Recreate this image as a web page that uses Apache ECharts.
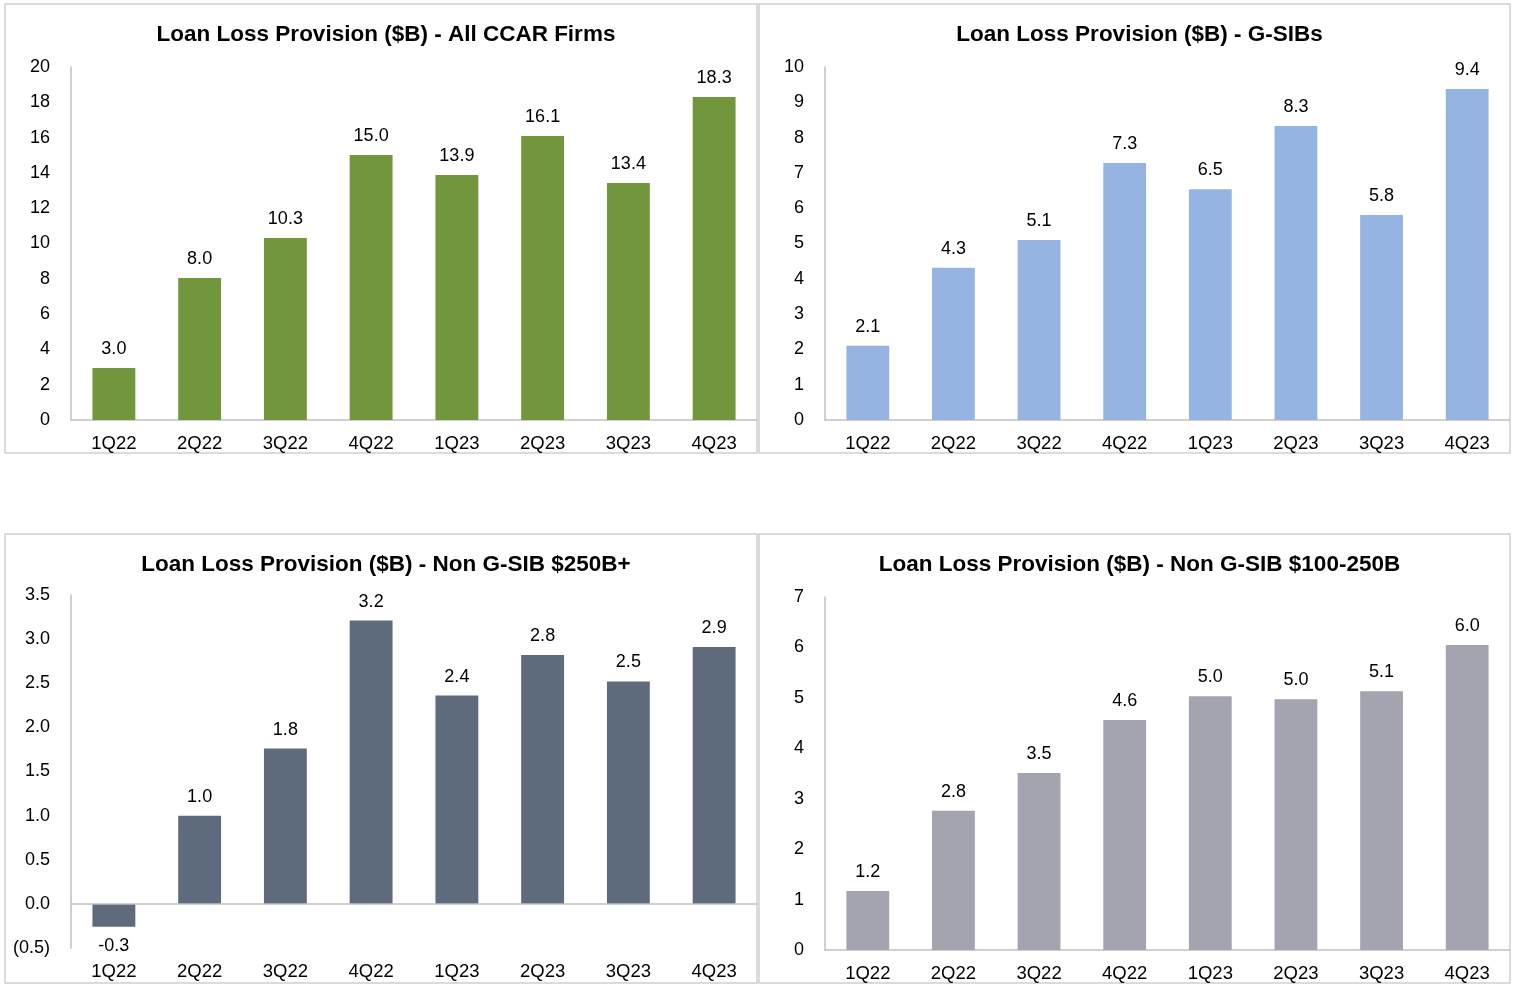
<!DOCTYPE html>
<html>
<head>
<meta charset="utf-8">
<style>
  html, body { margin: 0; padding: 0; background: #fff; }
  #chart { width: 1517px; height: 984px; }
</style>
<script src="https://cdn.jsdelivr.net/npm/echarts@6/dist/echarts.min.js"></script>
</head>
<body>
<div id="chart"></div>
<script>
const quarters = ['1Q22', '2Q22', '3Q22', '4Q22', '1Q23', '2Q23', '3Q23', '4Q23'];

const allCcar = [2.95, 8.04, 10.31, 15.01, 13.88, 16.09, 13.43, 18.3];
const gsibs = [2.1, 4.31, 5.1, 7.28, 6.54, 8.33, 5.81, 9.38];
const nonGsib250 = [-0.26, 1.0, 1.76, 3.21, 2.36, 2.82, 2.52, 2.91];
const nonGsib100 = [1.17, 2.76, 3.51, 4.56, 5.03, 4.97, 5.13, 6.05];

const titles = [
    'Loan Loss Provision ($B) - All CCAR Firms',
    'Loan Loss Provision ($B) - G-SIBs',
    'Loan Loss Provision ($B) - Non G-SIB $250B+',
    'Loan Loss Provision ($B) - Non G-SIB $100-250B'
];

const font = 'Liberation Sans, Arial, sans-serif';
const axisGray = '#c0c0c0';

// panel boxes: x, y, w, h
const panels = [
    [5, 4, 752, 449],
    [759, 4, 751, 449],
    [5, 534, 752, 449],
    [759, 534, 751, 449]
];

const grids = [
    { left: 71, top: 67, width: 686, height: 353 },
    { left: 825, top: 67, width: 685, height: 353 },
    { left: 71, top: 595, width: 686, height: 353 },
    { left: 825, top: 597, width: 685, height: 353 }
];

const yScales = [
    { min: 0, max: 20, interval: 2, fmt: v => String(v) },
    { min: 0, max: 10, interval: 1, fmt: v => String(v) },
    { min: -0.5, max: 3.5, interval: 0.5, fmt: v => v < 0 ? '(' + Math.abs(v).toFixed(1) + ')' : v.toFixed(1) },
    { min: 0, max: 7, interval: 1, fmt: v => String(v) }
];

const seriesData = [allCcar, gsibs, nonGsib250, nonGsib100];
const colors = ['#71963c', '#95b4e2', '#5e6b7d', '#a3a4b0'];

const chart = echarts.init(document.getElementById('chart'));

chart.setOption({
    animation: false,
    textStyle: { fontFamily: font },
    graphic: panels.map(p => ({
        type: 'rect',
        shape: { x: p[0], y: p[1], width: p[2], height: p[3] },
        style: { fill: 'none', stroke: '#d0d0d0', lineWidth: 1.5 },
        silent: true
    })),
    title: titles.map((t, i) => ({
        text: t,
        left: panels[i][0] + panels[i][2] / 2,
        top: panels[i][1] + 14,
        textAlign: 'center',
        textStyle: { fontFamily: font, fontSize: 22.5, fontWeight: 'bold', color: '#000' }
    })),
    grid: grids,
    xAxis: grids.map((g, i) => ({
        type: 'category',
        gridIndex: i,
        data: quarters,
        axisLine: i === 2 ? { show: false, onZero: false } : { lineStyle: { color: axisGray, width: 1.5 } },
        axisTick: { show: false },
        axisLabel: { color: '#000', fontSize: 18.5, margin: 14, fontFamily: font }
    })),
    yAxis: yScales.map((s, i) => ({
        type: 'value',
        gridIndex: i,
        min: s.min,
        max: s.max,
        interval: s.interval,
        splitLine: { show: false },
        axisLine: { show: true, lineStyle: { color: axisGray, width: 1.5 } },
        axisTick: { show: false },
        axisLabel: { color: '#000', fontSize: 18, margin: 21, formatter: s.fmt, fontFamily: font }
    })),
    series: seriesData.map((d, i) => ({
        type: 'bar',
        xAxisIndex: i,
        yAxisIndex: i,
        barWidth: '50%',
        itemStyle: { color: colors[i] },
        data: d.map(v => ({
            value: v,
            label: { position: v < 0 ? 'bottom' : 'top' }
        })),
        label: {
            show: true,
            distance: 10,
            color: '#000',
            fontSize: 18,
            fontFamily: font,
            formatter: p => p.value.toFixed(1)
        },
        markLine: i === 2 ? {
            silent: true,
            symbol: 'none',
            label: { show: false },
            lineStyle: { color: axisGray, type: 'solid', width: 1.5 },
            data: [{ yAxis: 0 }]
        } : undefined
    }))
});
</script>
</body>
</html>
